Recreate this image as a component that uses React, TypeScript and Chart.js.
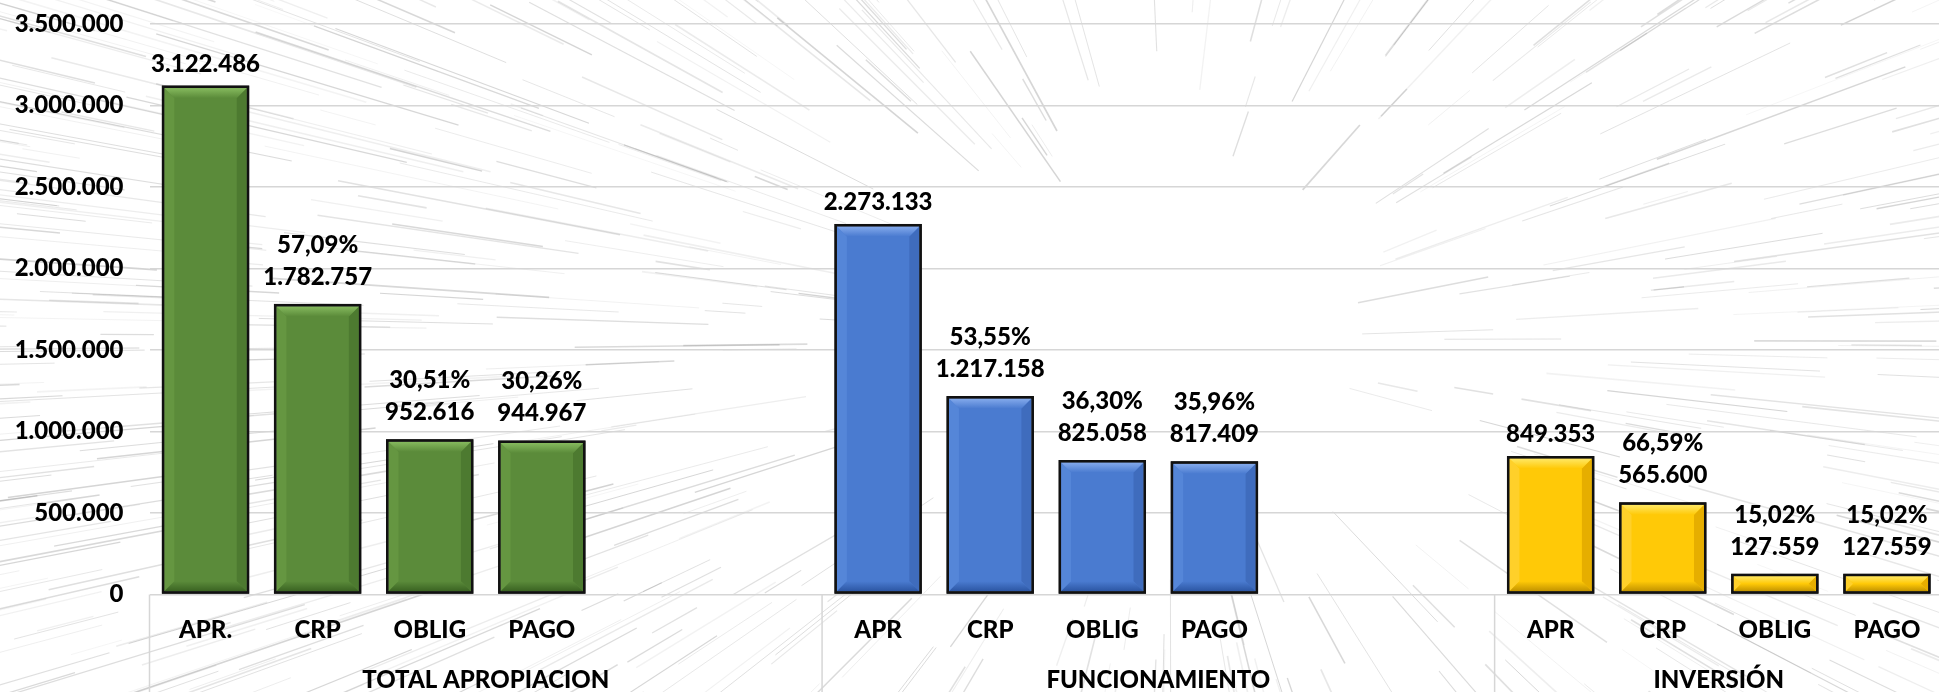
import React, { useEffect, useRef } from "react";
import { Chart, registerables } from "chart.js";

Chart.register(...registerables);

// ---- data ----
const categories = ["APR.", "CRP", "OBLIG", "PAGO", "", "", "APR", "CRP", "OBLIG", "PAGO", "", "", "APR", "CRP", "OBLIG", "PAGO"];
const values: (number | null)[] = [3122486, 1782757, 952616, 944967, null, null, 2273133, 1217158, 825058, 817409, null, null, 849353, 565600, 127559, 127559];
const percents = ["", "57,09%", "30,51%", "30,26%", "", "", "", "53,55%", "36,30%", "35,96%", "", "", "", "66,59%", "15,02%", "15,02%"];
const groups = ["TOTAL APROPIACION", "FUNCIONAMIENTO", "INVERSIÓN"];
const groupSizes = [6, 6, 4];
const yMin = 0;
const yMax = 3500000;
const yStep = 500000;

// ---- styles ----
const palettes = [
  { base: "#5B8B3A", light: "#86BA5E", dark: "#3A6322", left: "#659641", right: "#4D7A30" },
  { base: "#4A7BD0", light: "#84AAEC", dark: "#2C56A3", left: "#5586D8", right: "#3F6CBD" },
  { base: "#FFC907", light: "#FFE865", dark: "#C29300", left: "#FFD02A", right: "#E6AE00" },
];
const FONT_FAMILY = "Lato";
const FONT_SIZE = 24;
const FONT_WEIGHT = "900";
const FONT = `${FONT_WEIGHT} ${FONT_SIZE}px ${FONT_FAMILY}`;
const GRID = "#d6d6d6";

const groupOfIndex: number[] = [];
groupSizes.forEach((n, g) => { for (let k = 0; k < n; k++) groupOfIndex.push(g); });

const fmt = (n: number) => String(Math.round(n)).replace(/\B(?=(\d{3})+(?!\d))/g, ".");

function mulberry32(a: number) {
  return function () {
    a |= 0; a = (a + 0x6d2b79f5) | 0;
    let t = Math.imul(a ^ (a >>> 15), 1 | a);
    t = (t + Math.imul(t ^ (t >>> 7), 61 | t)) ^ t;
    return ((t ^ (t >>> 14)) >>> 0) / 4294967296;
  };
}

const backgroundPlugin = {
  id: "starburst",
  beforeDraw(chart: any) {
    const ctx = chart.ctx as CanvasRenderingContext2D;
    const W = chart.width, H = chart.height;
    ctx.save();
    ctx.fillStyle = "#ffffff";
    ctx.fillRect(0, 0, W, H);
    const cx = 1170, cy = 340;
    const rnd = mulberry32(12345);
    for (let i = 0; i < 3000; i++) {
      const a = rnd() * Math.PI * 2;
      const r0 = 130 + Math.pow(rnd(), 0.5) * 1300;
      const len = 30 + rnd() * 220 * (0.4 + r0 / 700);
      const alpha = 0.1 + rnd() * 0.28;
      const x0 = cx + Math.cos(a) * r0, y0 = cy + Math.sin(a) * r0;
      const x1 = cx + Math.cos(a) * (r0 + len), y1 = cy + Math.sin(a) * (r0 + len);
      ctx.strokeStyle = `rgba(140,140,140,${alpha})`;
      ctx.lineWidth = 0.6 + rnd() * 1.1;
      ctx.beginPath();
      ctx.moveTo(x0, y0);
      ctx.lineTo(x1, y1);
      ctx.stroke();
    }
    ctx.restore();
  },
};

const bevelPlugin = {
  id: "bevel",
  afterDatasetsDraw(chart: any) {
    const ctx = chart.ctx as CanvasRenderingContext2D;
    const meta = chart.getDatasetMeta(0);
    const bw = 2.5;
    ctx.save();
    meta.data.forEach((el: any, i: number) => {
      if (values[i] == null) return;
      const p = el.getProps(["x", "y", "base", "width"], true);
      const c = palettes[groupOfIndex[i]];
      const l = p.x - p.width / 2 + bw, r = p.x + p.width / 2 - bw;
      const t = Math.min(p.y, p.base) + bw, b = Math.max(p.y, p.base) - bw;
      const s = Math.min(10, (b - t) / 2, (r - l) / 2);
      ctx.fillStyle = c.left;
      ctx.beginPath(); ctx.moveTo(l, t); ctx.lineTo(l + s, t + s); ctx.lineTo(l + s, b - s); ctx.lineTo(l, b); ctx.closePath(); ctx.fill();
      ctx.fillStyle = c.right;
      ctx.beginPath(); ctx.moveTo(r, t); ctx.lineTo(r - s, t + s); ctx.lineTo(r - s, b - s); ctx.lineTo(r, b); ctx.closePath(); ctx.fill();
      const gt = ctx.createLinearGradient(0, t, 0, t + s);
      gt.addColorStop(0, c.light); gt.addColorStop(1, c.base);
      ctx.fillStyle = gt;
      ctx.beginPath(); ctx.moveTo(l, t); ctx.lineTo(r, t); ctx.lineTo(r - s, t + s); ctx.lineTo(l + s, t + s); ctx.closePath(); ctx.fill();
      const gb = ctx.createLinearGradient(0, b - s, 0, b);
      gb.addColorStop(0, c.base); gb.addColorStop(1, c.dark);
      ctx.fillStyle = gb;
      ctx.beginPath(); ctx.moveTo(l, b); ctx.lineTo(r, b); ctx.lineTo(r - s, b - s); ctx.lineTo(l + s, b - s); ctx.closePath(); ctx.fill();
      ctx.strokeStyle = "#111111";
      ctx.lineWidth = bw;
      ctx.strokeRect(p.x - p.width / 2 + bw / 2, Math.min(p.y, p.base) + bw / 2, p.width - bw, Math.abs(p.base - p.y) - bw);
    });
    ctx.restore();
  },
};

const labelsPlugin = {
  id: "labels",
  afterDatasetsDraw(chart: any) {
    const ctx = chart.ctx as CanvasRenderingContext2D;
    const meta = chart.getDatasetMeta(0);
    ctx.save();
    ctx.font = FONT;
    ctx.fillStyle = "#000000";
    ctx.textAlign = "center";
    ctx.textBaseline = "alphabetic";
    meta.data.forEach((el: any, i: number) => {
      const v = values[i];
      if (v == null) return;
      const p = el.getProps(["x", "y"], true);
      if (percents[i]) {
        ctx.fillText(fmt(v), p.x, p.y - 19);
        ctx.fillText(percents[i], p.x, p.y - 19 - 32);
      } else {
        ctx.fillText(fmt(v), p.x, p.y - 14);
      }
    });
    ctx.restore();
  },
};

const axisPlugin = {
  id: "groupAxis",
  afterDraw(chart: any) {
    const ctx = chart.ctx as CanvasRenderingContext2D;
    const xs = chart.scales.x;
    const area = chart.chartArea;
    const slot = xs.getPixelForValue(1) - xs.getPixelForValue(0);
    ctx.save();
    ctx.strokeStyle = GRID;
    ctx.lineWidth = 1.5;
    let idx = 0;
    const bounds: number[] = [xs.getPixelForValue(0) - slot / 2];
    groupSizes.forEach((n) => { idx += n; bounds.push(xs.getPixelForValue(idx - 1) + slot / 2); });
    bounds.forEach((bx) => {
      ctx.beginPath(); ctx.moveTo(bx, area.bottom); ctx.lineTo(bx, chart.height); ctx.stroke();
    });
    ctx.font = FONT;
    ctx.fillStyle = "#000000";
    ctx.textAlign = "center";
    ctx.textBaseline = "alphabetic";
    categories.forEach((c, i) => {
      if (!c) return;
      ctx.fillText(c, xs.getPixelForValue(i), area.bottom + 43.5);
    });
    groups.forEach((g, k) => {
      const cxm = (bounds[k] + bounds[k + 1]) / 2;
      ctx.fillText(g, cxm, area.bottom + 93.5);
    });
    ctx.restore();
  },
};

export default function App() {
  const ref = useRef<HTMLCanvasElement | null>(null);
  useEffect(() => {
    if (!ref.current) return;
    const colors = values.map((_, i) => palettes[groupOfIndex[i]].base);
    const chart = new Chart(ref.current, {
      type: "bar",
      data: {
        labels: categories.map((c, i) => c || `_${i}`),
        datasets: [
          {
            data: values,
            backgroundColor: colors,
            borderColor: "#111111",
            borderWidth: 2.5,
            borderSkipped: false,
            barPercentage: 0.78,
            categoryPercentage: 1,
          },
        ],
      },
      options: {
        responsive: false,
        animation: false,
        devicePixelRatio: 1,
        layout: { padding: { top: 24, left: 0, right: 0, bottom: 0 } },
        plugins: { legend: { display: false }, tooltip: { enabled: false }, title: { display: false } },
        scales: {
          x: {
            type: "category",
            offset: true,
            grid: { display: false },
            border: { display: false },
            ticks: { display: false },
            afterFit: (s: any) => { s.height = 97.5; s.paddingLeft = 0; s.paddingRight = 0; },
          },
          y: {
            min: yMin,
            max: yMax,
            ticks: {
              stepSize: yStep,
              padding: 26,
              color: "#000000",
              font: { family: FONT_FAMILY, size: FONT_SIZE, weight: FONT_WEIGHT },
              callback: (v: any) => fmt(Number(v)),
            },
            grid: { color: GRID, lineWidth: 1.5, drawTicks: false },
            border: { display: false },
            afterFit: (s: any) => { s.width = 149.5; s.paddingTop = 0; s.paddingBottom = 0; },
          },
        },
      },
      plugins: [backgroundPlugin, bevelPlugin, labelsPlugin, axisPlugin],
    } as any);
    return () => chart.destroy();
  }, []);
  return (
    <div style={{ position: "fixed", left: 0, top: 0, width: 1939, height: 692, overflow: "hidden", background: "#fff" }}>
      <canvas ref={ref} width={1943} height={692} style={{ display: "block", width: 1943, height: 692 }} />
    </div>
  );
}
